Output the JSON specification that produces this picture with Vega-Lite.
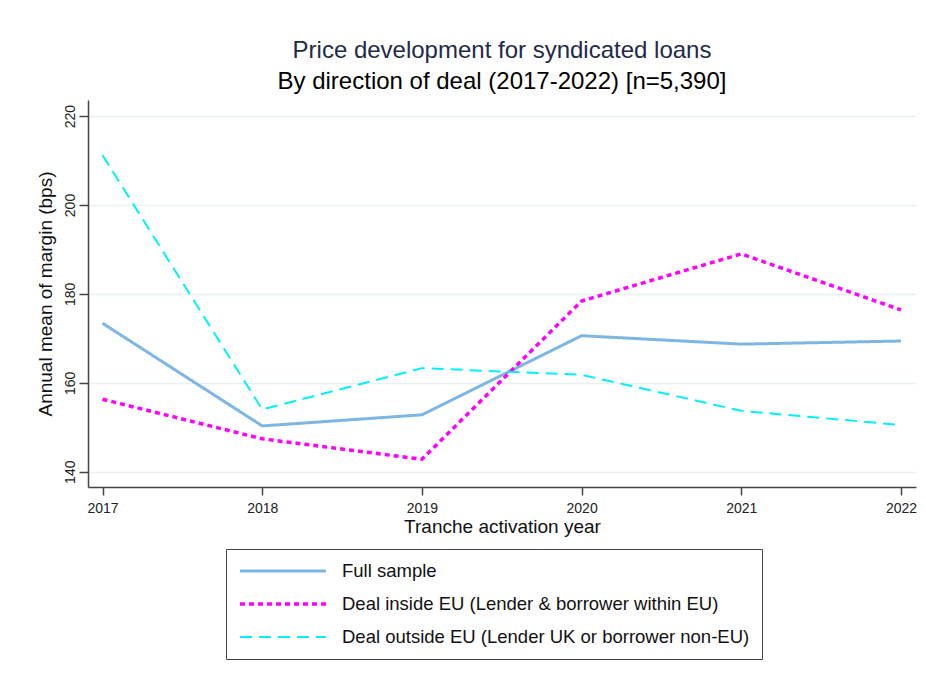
{
  "$schema": "https://vega.github.io/schema/vega-lite/v6.json",
  "width": 828,
  "height": 387,
  "autosize": {"type": "none"},
  "padding": {"left": 88, "top": 100, "right": 10, "bottom": 195},
  "background": "white",
  "title": {
    "text": "Price development for syndicated loans",
    "subtitle": "By direction of deal (2017-2022) [n=5,390]",
    "anchor": "middle",
    "font": "Liberation Sans",
    "fontSize": 24,
    "fontWeight": "normal",
    "color": "#1e2b48",
    "subtitleFont": "Liberation Sans",
    "subtitleFontSize": 24,
    "subtitleColor": "#000000",
    "subtitlePadding": 7,
    "offset": 6
  },
  "data": {
    "values": [
      {"year": 2017, "series": "Full sample", "margin": 173.4},
      {"year": 2018, "series": "Full sample", "margin": 150.3},
      {"year": 2019, "series": "Full sample", "margin": 152.8},
      {"year": 2020, "series": "Full sample", "margin": 170.6},
      {"year": 2021, "series": "Full sample", "margin": 168.7},
      {"year": 2022, "series": "Full sample", "margin": 169.4},
      {"year": 2017, "series": "Deal inside EU (Lender & borrower within EU)", "margin": 156.3},
      {"year": 2018, "series": "Deal inside EU (Lender & borrower within EU)", "margin": 147.4},
      {"year": 2019, "series": "Deal inside EU (Lender & borrower within EU)", "margin": 142.8},
      {"year": 2020, "series": "Deal inside EU (Lender & borrower within EU)", "margin": 178.4},
      {"year": 2021, "series": "Deal inside EU (Lender & borrower within EU)", "margin": 189.0},
      {"year": 2022, "series": "Deal inside EU (Lender & borrower within EU)", "margin": 176.4},
      {"year": 2017, "series": "Deal outside EU (Lender UK or borrower non-EU)", "margin": 211.2},
      {"year": 2018, "series": "Deal outside EU (Lender UK or borrower non-EU)", "margin": 154.0},
      {"year": 2019, "series": "Deal outside EU (Lender UK or borrower non-EU)", "margin": 163.3},
      {"year": 2020, "series": "Deal outside EU (Lender UK or borrower non-EU)", "margin": 161.8},
      {"year": 2021, "series": "Deal outside EU (Lender UK or borrower non-EU)", "margin": 153.7},
      {"year": 2022, "series": "Deal outside EU (Lender UK or borrower non-EU)", "margin": 150.5}
    ]
  },
  "mark": {"type": "line", "strokeCap": "butt"},
  "encoding": {
    "x": {
      "field": "year",
      "type": "quantitative",
      "scale": {"domain": [2016.909, 2022.094], "nice": false, "zero": false},
      "axis": {
        "values": [2017, 2018, 2019, 2020, 2021, 2022],
        "format": "d",
        "title": "Tranche activation year",
        "grid": false,
        "tickSize": 8,
        "labelPadding": 6,
        "labelFontSize": 14,
        "titleFontSize": 19,
        "titlePadding": 2
      }
    },
    "y": {
      "field": "margin",
      "type": "quantitative",
      "scale": {"domain": [136.56, 223.62], "nice": false, "zero": false},
      "axis": {
        "values": [140, 160, 180, 200, 220],
        "title": "Annual mean of margin (bps)",
        "grid": true,
        "tickSize": 9,
        "labelAngle": 270,
        "labelAlign": "center",
        "labelBaseline": "bottom",
        "labelPadding": 2,
        "labelFontSize": 14,
        "titleFontSize": 19,
        "titlePadding": 8
      }
    },
    "color": {
      "field": "series",
      "type": "nominal",
      "scale": {
        "domain": ["Full sample", "Deal inside EU (Lender & borrower within EU)", "Deal outside EU (Lender UK or borrower non-EU)"],
        "range": ["#7db6e2", "#ff00ff", "#00f0ff"]
      },
      "legend": {
        "orient": "none",
        "legendX": 138,
        "legendY": 449,
        "title": null
      }
    },
    "strokeDash": {
      "field": "series",
      "type": "nominal",
      "scale": {
        "domain": ["Full sample", "Deal inside EU (Lender & borrower within EU)", "Deal outside EU (Lender UK or borrower non-EU)"],
        "range": [[1, 0], [5, 4], [12, 7]]
      },
      "legend": {
        "orient": "none",
        "legendX": 138,
        "legendY": 449,
        "title": null
      }
    },
    "strokeWidth": {
      "field": "series",
      "type": "nominal",
      "scale": {
        "type": "ordinal",
        "domain": ["Full sample", "Deal inside EU (Lender & borrower within EU)", "Deal outside EU (Lender UK or borrower non-EU)"],
        "range": [3, 3.5, 2]
      },
      "legend": {
        "orient": "none",
        "legendX": 138,
        "legendY": 449,
        "title": null
      }
    }
  },
  "config": {
    "font": "Liberation Sans",
    "view": {"stroke": null},
    "axis": {
      "domainColor": "#444444",
      "domainWidth": 1.5,
      "tickColor": "#444444",
      "tickWidth": 1.5,
      "gridColor": "#e8f0f3",
      "gridWidth": 1.5,
      "labelColor": "#222222",
      "titleColor": "#111111",
      "titleFontWeight": "normal",
      "labelFont": "Liberation Sans",
      "titleFont": "Liberation Sans"
    },
    "legend": {
      "symbolType": "stroke",
      "symbolSize": 7396,
      "labelFontSize": 18.5,
      "labelFont": "Liberation Sans",
      "labelColor": "#111111",
      "labelOffset": 14,
      "labelLimit": 600,
      "rowPadding": 13,
      "clipHeight": 20,
      "padding": 12,
      "strokeColor": "#444444"
    }
  }
}
